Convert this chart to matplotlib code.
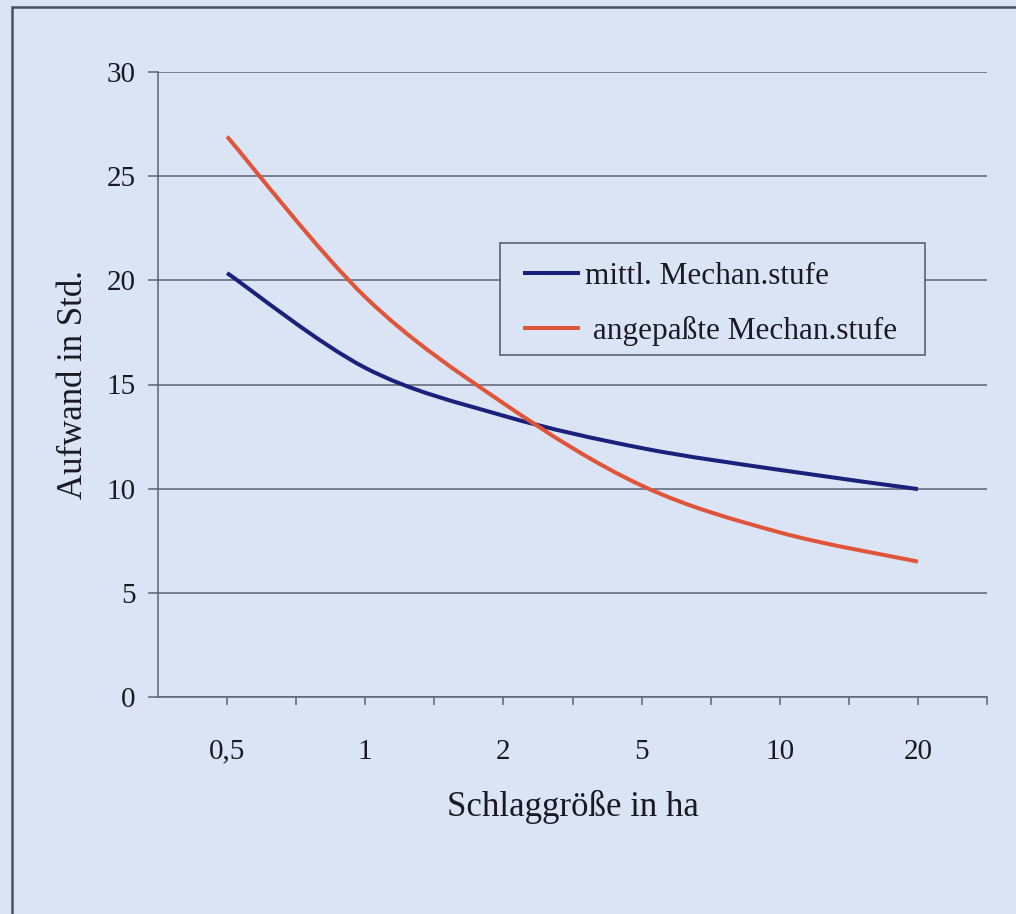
import matplotlib
matplotlib.use('Agg')
import matplotlib.pyplot as plt
from matplotlib.path import Path
from matplotlib.patches import PathPatch, Rectangle
from matplotlib.lines import Line2D

# Daten
kategorien = ['0,5', '1', '2', '5', '10', '20']
mittl = [20.35, 15.8, 13.5, 11.95, 10.9, 9.98]
angepasst = [26.9, 19.2, 14.1, 10.15, 7.9, 6.5]
namen = ['mittl. Mechan.stufe', ' angepaßte Mechan.stufe']
farben = ['#1a217c', '#e0553a']

bg = '#dae4f5'
grid_col = '#5c6272'
text_col = '#1a1a26'

plt.rcParams['font.family'] = ['Liberation Serif', 'DejaVu Serif']


def smooth_path(xs, ys):
    # Excel-artige Glaettung (Catmull-Rom als Bezier)
    pts = list(zip(xs, ys))
    n = len(pts)
    verts = [pts[0]]
    codes = [Path.MOVETO]
    for i in range(n - 1):
        p0 = pts[i - 1] if i > 0 else pts[i]
        p1 = pts[i]
        p2 = pts[i + 1]
        p3 = pts[i + 2] if i + 2 < n else pts[i + 1]
        c1 = (p1[0] + (p2[0] - p0[0]) / 6, p1[1] + (p2[1] - p0[1]) / 6)
        c2 = (p2[0] - (p3[0] - p1[0]) / 6, p2[1] - (p3[1] - p1[1]) / 6)
        verts += [c1, c2, p2]
        codes += [Path.CURVE4] * 3
    return Path(verts, codes)


fig = plt.figure(figsize=(10.16, 9.14), dpi=100, facecolor=bg)
ax = fig.add_axes([158 / 1016, 1 - 697 / 914, 829 / 1016, 625 / 914])
ax.set_facecolor(bg)

x = list(range(len(kategorien)))
for werte, farbe in zip([mittl, angepasst], farben):
    ax.add_patch(PathPatch(smooth_path(x, werte), facecolor='none',
                           edgecolor=farbe, lw=2.9, capstyle='butt', zorder=3))

ax.set_xlim(-0.5, len(kategorien) - 0.5)
ax.set_ylim(0, 30)
ax.set_yticks(range(0, 31, 5))
ax.set_xticks(x)
ax.set_xticklabels(kategorien)
ax.set_xticks([i + 0.5 for i in x], minor=True)

ax.yaxis.grid(True, color=grid_col, lw=1.1)
ax.set_axisbelow(True)
for s in ['top', 'right']:
    ax.spines[s].set_visible(False)
for s in ['left', 'bottom']:
    ax.spines[s].set_color(grid_col)
    ax.spines[s].set_linewidth(1.1)

ax.tick_params(axis='y', direction='out', length=7, width=1.1, color=grid_col,
               labelsize=21, labelcolor=text_col, pad=9)
ax.tick_params(axis='x', which='both', direction='out', length=6, width=1.1,
               color=grid_col)
ax.tick_params(axis='x', which='major', labelsize=21, labelcolor=text_col, pad=24)

ax.set_xlabel('Schlaggröße in ha', fontsize=25, color=text_col, labelpad=18)
ax.set_ylabel('Aufwand in Std.', fontsize=25, color=text_col, labelpad=12)

# Legende ohne eigenen Rahmen, Rahmen separat (mehr Innenabstand)
handles = [Line2D([], [], color=f, lw=2.9) for f in farben]
leg = ax.legend(handles, namen, loc='center left', bbox_to_anchor=(0.4427, 0.629),
                fontsize=22.5, frameon=False, handlelength=1.7,
                handletextpad=0.22, labelspacing=0.78, borderpad=0,
                borderaxespad=0)
for t in leg.get_texts():
    t.set_color(text_col)
ax.add_patch(Rectangle((0.4125, 0.547), 0.5125, 0.1794, transform=ax.transAxes,
                       facecolor=bg, edgecolor=grid_col, lw=1.2, zorder=4))
leg.set_zorder(5)

# Rahmen um das Diagramm
fig.patches.append(Rectangle((12 / 1016, -0.05), 1.1, 1 - 7 / 914 + 0.05,
                             transform=fig.transFigure, fill=False,
                             edgecolor='#4a4f5c', lw=1.8))

fig.savefig('out.png', dpi=100, facecolor=bg)
